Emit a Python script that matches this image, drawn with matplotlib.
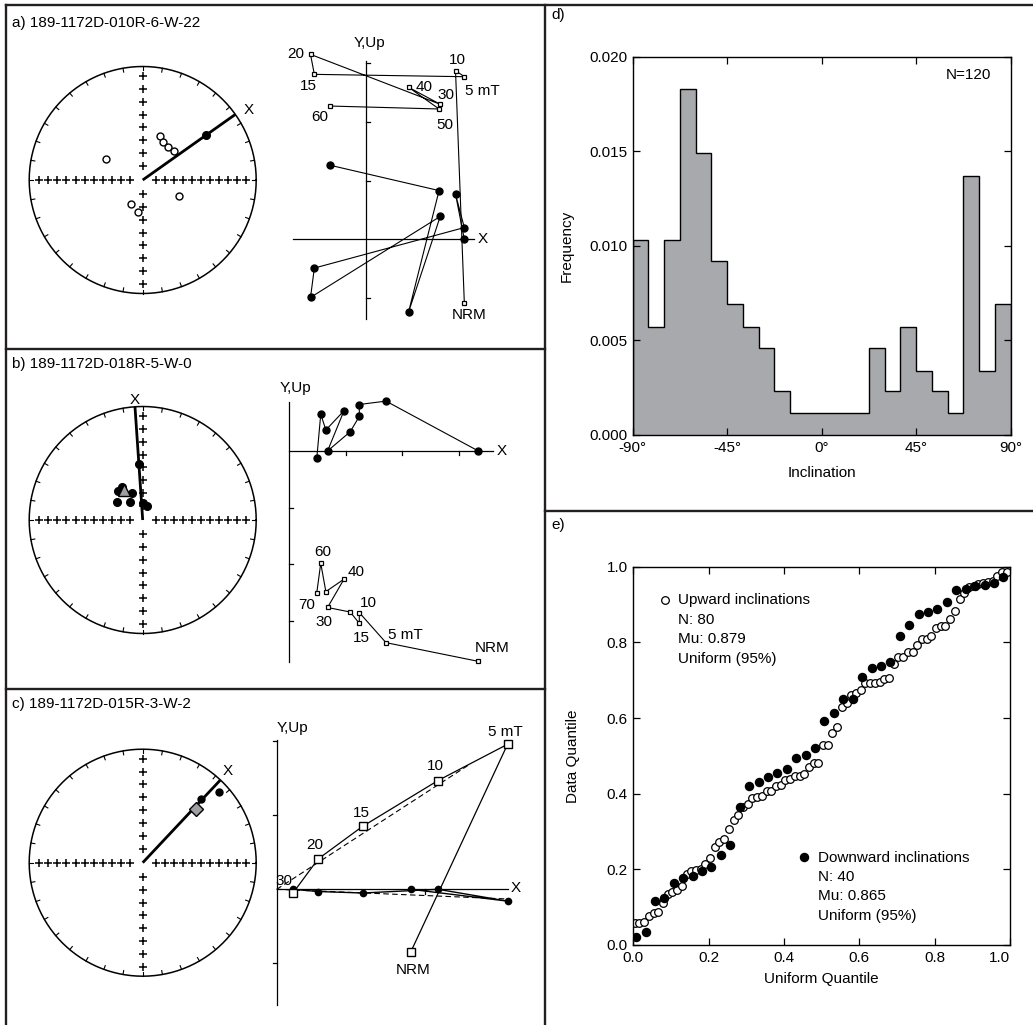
import numpy as np
import matplotlib
matplotlib.use('Agg')
import matplotlib.pyplot as plt
from matplotlib.lines import Line2D

plt.rcParams['font.family'] = ['Liberation Sans', 'DejaVu Sans']
plt.rcParams['font.size'] = 11

# ---- data ----
# stereonets (declination, inclination in degrees)
a_open_dec = [21, 29, 38, 47, 300, 114, 206, 188]
a_open_inc = [-56, -59, -60, -59, -59, -61, -71, -67]
a_fill_dec = [55]
a_fill_inc = [32]
a_x_dec = 54.7

b_fill_dec = [356.6, 0, 15.6, 305.3, 325.4, 320, 328.6, 338.1]
b_fill_inc = [49.3, 78, 79.4, 67.1, 74, 62.7, 61.8, 68.8]
b_mean_dec, b_mean_inc = 328.1, 64.5
b_x_dec = 356.1

c_fill_dec = [42.6, 47.1]
c_fill_inc = [25, 9.6]
c_mean_dec, c_mean_inc = 45, 33.8
c_x_dec = 43.2

# Zijderveld diagrams (tick units)
za_steps = ['NRM', '5 mT', '10', '15', '20', '30', '40', '50', '60']
za_x = [1.68, 1.53, 1.68, -0.875, -0.94, 1.27, 0.73, 1.25, -0.60]
za_y = [0, 0.77, 0.20, -0.49, -0.99, 0.39, -1.24, 0.83, 1.26]
za_up = [-1.08, 2.875, 2.77, 2.81, 3.15, 2.30, 2.59, 2.22, 2.27]

zb_steps = ['NRM', '5 mT', '10', '15', '20', '30', '40', '50', '60', '70']
zb_x = [3.34, 1.71, 1.24, 1.24, 1.08, 0.68, 0.97, 0.65, 0.56, 0.49]
zb_y = [0, 0.88, 0.82, 0.61, 0.34, 0, 0.71, 0.37, 0.65, -0.13]
zb_up = [-3.71, -3.38, -2.85, -3.04, -2.84, -2.76, -2.26, -2.48, -1.98, -2.50]

zc_steps = ['NRM', '5 mT', '10', '15', '20', '30']
zc_x = [1.81, 3.12, 2.18, 1.16, 0.56, 0.22]
zc_y = [0.0, -0.16, 0.0, -0.05, -0.03, 0.0]
zc_up = [-0.85, 1.96, 1.47, 0.85, 0.41, -0.05]
zc_fit_up = ([0, 2.61], [0, 1.69])
zc_fit_y = ([0, 3.1], [0, -0.13])

# histogram
bin_edges = np.linspace(-90, 90, 25)
freq = [0.0103, 0.0057, 0.0103, 0.0183, 0.0149, 0.0092, 0.0069, 0.0057, 0.0046, 0.0023,
        0.00115, 0.00115, 0.00115, 0.00115, 0.00115, 0.0046, 0.0023, 0.0057, 0.0034, 0.0023,
        0.00115, 0.0137, 0.0034, 0.0069]

# uniform Q-Q plot (data quantiles, sorted)
up_q = [0.057, 0.059, 0.060, 0.077, 0.085, 0.088, 0.112, 0.135, 0.141, 0.145,
        0.156, 0.189, 0.196, 0.198, 0.200, 0.214, 0.229, 0.260, 0.271, 0.280,
        0.306, 0.330, 0.344, 0.366, 0.374, 0.388, 0.390, 0.394, 0.407, 0.407,
        0.421, 0.423, 0.436, 0.438, 0.448, 0.448, 0.452, 0.471, 0.480, 0.480,
        0.530, 0.530, 0.561, 0.577, 0.630, 0.639, 0.661, 0.665, 0.674, 0.692,
        0.693, 0.693, 0.696, 0.702, 0.705, 0.743, 0.760, 0.762, 0.775, 0.775,
        0.793, 0.808, 0.808, 0.817, 0.837, 0.843, 0.843, 0.861, 0.883, 0.914,
        0.930, 0.947, 0.949, 0.954, 0.958, 0.960, 0.963, 0.975, 0.986, 0.987]
down_q = [0.020, 0.035, 0.117, 0.123, 0.165, 0.176, 0.182, 0.196, 0.207, 0.238,
          0.264, 0.364, 0.419, 0.432, 0.445, 0.454, 0.464, 0.493, 0.502, 0.520,
          0.593, 0.614, 0.649, 0.649, 0.709, 0.731, 0.738, 0.749, 0.817, 0.846,
          0.875, 0.879, 0.887, 0.907, 0.938, 0.941, 0.949, 0.952, 0.958, 0.974]

# ---- figure ----
W, H = 1033, 1025
fig = plt.figure(figsize=(W / 100, H / 100), dpi=100)
K = '#231f20'


def px_axes(x0, y0, x1, y1):
    return fig.add_axes([x0 / W, 1 - y1 / H, (x1 - x0) / W, (y1 - y0) / H])


def fig_line(xs, ys, lw=1.7):
    fig.add_artist(Line2D([x / W for x in xs], [1 - y / H for y in ys], lw=lw, color=K))


def fig_text(x, y, s, **kw):
    fig.text(x / W, 1 - y / H, s, **kw)


def equal_area(dec, inc):
    d = np.radians(np.asarray(dec, float))
    r = np.sqrt(2) * np.sin(np.radians(90 - np.abs(np.asarray(inc, float))) / 2)
    return r * np.sin(d), r * np.cos(d)


def stereonet(cx, cy, R=113.5):
    ext = 1.16
    ax = px_axes(cx - ext * R, cy - ext * R, cx + ext * R, cy + ext * R)
    ax.set_xlim(-ext, ext)
    ax.set_ylim(-ext, ext)
    ax.axis('off')
    t = np.linspace(0, 2 * np.pi, 361)
    ax.plot(np.cos(t), np.sin(t), color='k', lw=1.1)
    for a in np.radians(np.arange(0, 360, 10)):
        ax.plot([np.cos(a), 0.965 * np.cos(a)], [np.sin(a), 0.965 * np.sin(a)], color='k', lw=0.8)
    hx = np.linspace(0.115, 0.91, 11)
    vy = np.linspace(0.125, 0.915, 8)
    ax.plot(np.r_[-hx, hx], np.zeros(22), '+', color='k', ms=5.5, mew=1.1)
    ax.plot(np.zeros(16), np.r_[-vy, vy], '+', color='k', ms=5.5, mew=1.1)
    return ax


def x_line(ax, dec, label_xy):
    d = np.radians(dec)
    ax.plot([0, np.sin(d)], [0, np.cos(d)], color='k', lw=2, solid_capstyle='butt')
    ax.text(*label_xy, 'X', ha='center', va='center', fontsize=11)


def zij_axes(rect, origin, unit):
    x0, y0, x1, y1 = rect
    ox, oy = origin
    ax = px_axes(x0, y0, x1, y1)
    ax.set_xlim((x0 - ox) / unit, (x1 - ox) / unit)
    ax.set_ylim((oy - y1) / unit, (oy - y0) / unit)
    ax.axis('off')
    return ax


# panel frames
fig_line([6, 6], [4.5, 1025])
fig_line([6, 1033], [4.5, 4.5])
fig_line([544.5, 544.5], [4.5, 1025])
fig_line([6, 544.5], [348.7, 348.7])
fig_line([6, 544.5], [688.7, 688.7])
fig_line([544.5, 1033], [510.7, 510.7])

fig_text(12, 23, 'a) 189-1172D-010R-6-W-22', va='center')
fig_text(12, 364, 'b) 189-1172D-018R-5-W-0', va='center')
fig_text(12, 704, 'c) 189-1172D-015R-3-W-2', va='center')
fig_text(551, 15, 'd)', va='center')
fig_text(551, 525, 'e)', va='center')

# ---- a) stereonet ----
ax = stereonet(142.7, 180)
x_line(ax, a_x_dec, (0.93, 0.62))
ex, ny = equal_area(a_open_dec, a_open_inc)
ax.plot(ex, ny, 'o', mfc='white', mec='k', ms=5, mew=1)
ex, ny = equal_area(a_fill_dec, a_fill_inc)
ax.plot(ex, ny, 'o', color='k', ms=5.5)

# ---- a) Zijderveld ----
ax = zij_axes((280, 35, 505, 335), (365.7, 239.3), 58.7)
ax.plot([-1.24, 1.84], [0, 0], color='k', lw=0.9)
ax.plot([0, 0], [-1.35, 3.03], color='k', lw=0.9)
for t in [-1, 1, 2, 3]:
    ax.plot([0, 0.07], [t, t], color='k', lw=0.9)
ax.plot(za_x, za_y, '-o', color='k', lw=0.8, ms=5)
ax.plot(za_x, za_up, '-s', color='k', mfc='white', lw=0.8, ms=3.5, mew=0.9)
a_lab = {'NRM': (1.76, -1.29), '5 mT': (1.98, 2.52), '10': (1.56, 3.06), '15': (-0.98, 2.61),
         '20': (-1.20, 3.15), '30': (1.36, 2.46), '40': (0.99, 2.59), '50': (1.34, 1.95),
         '60': (-0.78, 2.09)}
for s, xy in a_lab.items():
    ax.text(*xy, s, ha='center', va='center')
ax.text(0.07, 3.34, 'Y,Up', ha='center', va='center')
ax.text(2.0, 0, 'X', ha='center', va='center')

# ---- b) stereonet ----
ax = stereonet(142.7, 520)
x_line(ax, b_x_dec, (-0.068, 1.06))
ex, ny = equal_area(b_fill_dec, b_fill_inc)
ax.plot(ex, ny, 'o', color='k', ms=5.5)
ex, ny = equal_area([b_mean_dec], [b_mean_inc])
ax.plot(ex, ny, '^', mfc='#9d9fa2', mec='k', ms=8, mew=1)

# ---- b) Zijderveld ----
ax = zij_axes((275, 375, 520, 675), (289, 451), 56.7)
ax.plot([0, 3.6], [0, 0], color='k', lw=0.9)
ax.plot([0, 0], [-3.72, 0.87], color='k', lw=0.9)
for t in [-1, -2, -3]:
    ax.plot([0, 0.07], [t, t], color='k', lw=0.9)
for t in [1, 2, 3]:
    ax.plot([t, t], [0, -0.07], color='k', lw=0.9)
ax.plot(zb_x, zb_y, '-o', color='k', lw=0.8, ms=5)
ax.plot(zb_x, zb_up, '-s', color='k', mfc='white', lw=0.8, ms=3.5, mew=0.9)
b_lab = {'NRM': (3.58, -3.48), '5 mT': (2.06, -3.24), '10': (1.40, -2.68), '15': (1.28, -3.29),
         '30': (0.61, -3.02), '70': (0.32, -2.71), '60': (0.59, -1.78), '40': (1.19, -2.13)}
for s, xy in b_lab.items():
    ax.text(*xy, s, ha='center', va='center')
ax.text(0.11, 1.11, 'Y,Up', ha='center', va='center')
ax.text(3.75, 0, 'X', ha='center', va='center')

# ---- c) stereonet ----
ax = stereonet(142.7, 862.7)
x_line(ax, c_x_dec, (0.75, 0.81))
ex, ny = equal_area(c_fill_dec, c_fill_inc)
ax.plot(ex, ny, 'o', color='k', ms=5)
ex, ny = equal_area([c_mean_dec], [c_mean_inc])
ax.plot(ex, ny, 'D', mfc='#9d9fa2', mec='k', ms=7, mew=1)

# ---- c) Zijderveld ----
ax = zij_axes((262, 715, 540, 1020), (276.7, 889.3), 74)
ax.plot([0, 3.13], [0, 0], color='k', lw=0.9)
ax.plot([0, 0], [-1.56, 2.02], color='k', lw=0.9)
for t in [-1, 1, 2]:
    ax.plot([-0.055, 0], [t, t], color='k', lw=0.9)
ax.plot([2, 2], [0, -0.06], color='k', lw=0.9)
ax.plot(*zc_fit_up, '--', color='k', lw=0.8, dashes=(5, 3))
ax.plot(*zc_fit_y, '--', color='k', lw=0.8, dashes=(5, 3))
ax.plot(zc_x, zc_y, '-o', color='k', lw=1.0, ms=4.5)
ax.plot(zc_x, zc_up, '-s', color='k', mfc='white', lw=0.9, ms=5.5, mew=1)
c_lab = {'NRM': (1.85, -1.09), '5 mT': (3.09, 2.13), '10': (2.15, 1.66), '15': (1.15, 1.03),
         '20': (0.51, 0.60), '30': (0.10, 0.11)}
for s, xy in c_lab.items():
    ax.text(*xy, s, ha='center', va='center')
ax.text(0.21, 2.18, 'Y,Up', ha='center', va='center')
ax.text(3.23, 0.02, 'X', ha='center', va='center')


def style_box(ax):
    for sp in ax.spines.values():
        sp.set_linewidth(1.0)
    ax.tick_params(direction='in', length=5, width=0.9, top=True, right=True,
                   labelsize=11, pad=4)


# ---- d) histogram ----
ax = px_axes(632.7, 56.7, 1010.7, 435)
ax.stairs(freq, bin_edges, fill=True, color='#a7a9ac')
ax.stairs(freq, bin_edges, color='k', lw=1.0, baseline=0)
ax.set_xlim(-90, 90)
ax.set_ylim(0, 0.020)
ax.set_xticks([-90, -45, 0, 45, 90], labels=['-90°', '-45°', '0°', '45°', '90°'])
ax.set_yticks([0, 0.005, 0.010, 0.015, 0.020], labels=['0.000', '0.005', '0.010', '0.015', '0.020'])
style_box(ax)
ax.set_xlabel('Inclination')
ax.set_ylabel('Frequency')
ax.xaxis.set_label_coords(0.5, -0.082)
ax.yaxis.set_label_coords(-0.155, 0.5)
ax.text(0.887, 0.952, 'N=120', transform=ax.transAxes, ha='center', va='center')

# ---- e) Q-Q plot ----
ax = px_axes(633.3, 566.7, 1010, 945)
n_up, n_down = len(up_q), len(down_q)
ax.plot((np.arange(n_up) + 0.3) / n_up, up_q, 'o', mfc='white', mec='k', ms=5.5, mew=0.9)
ax.plot((np.arange(n_down) + 0.3) / n_down, down_q, 'o', color='k', ms=5.8)
ax.set_xlim(0, 1.0)
ax.set_ylim(0, 1.0)
ax.set_xticks([0, 0.2, 0.4, 0.6, 0.8, 1.0], labels=['0.0', '0.2', '0.4', '0.6', '0.8', '1.0'])
ax.set_yticks([0, 0.2, 0.4, 0.6, 0.8, 1.0], labels=['0.0', '0.2', '0.4', '0.6', '0.8', '1.0'])
style_box(ax)
ax.get_xticklabels()[-1].set_ha('right')
ax.set_xlabel('Uniform Quantile')
ax.set_ylabel('Data Quantile')
ax.xaxis.set_label_coords(0.5, -0.071)
ax.yaxis.set_label_coords(-0.142, 0.5)
ax.plot([0.084], [0.912], 'o', mfc='white', mec='k', ms=5.5, mew=0.9, transform=ax.transAxes, clip_on=False)
ax.plot([0.452], [0.232], 'o', color='k', ms=5.8, transform=ax.transAxes, clip_on=False)
for i, s in enumerate(['Upward inclinations', 'N: 80', 'Mu: 0.879', 'Uniform (95%)']):
    fig_text(677.7, 600 + 19.5 * i, s, va='center')
for i, s in enumerate(['Downward inclinations', 'N: 40', 'Mu: 0.865', 'Uniform (95%)']):
    fig_text(818.3, 857.7 + 19.3 * i, s, va='center')

fig.savefig('out.png', dpi=100)
